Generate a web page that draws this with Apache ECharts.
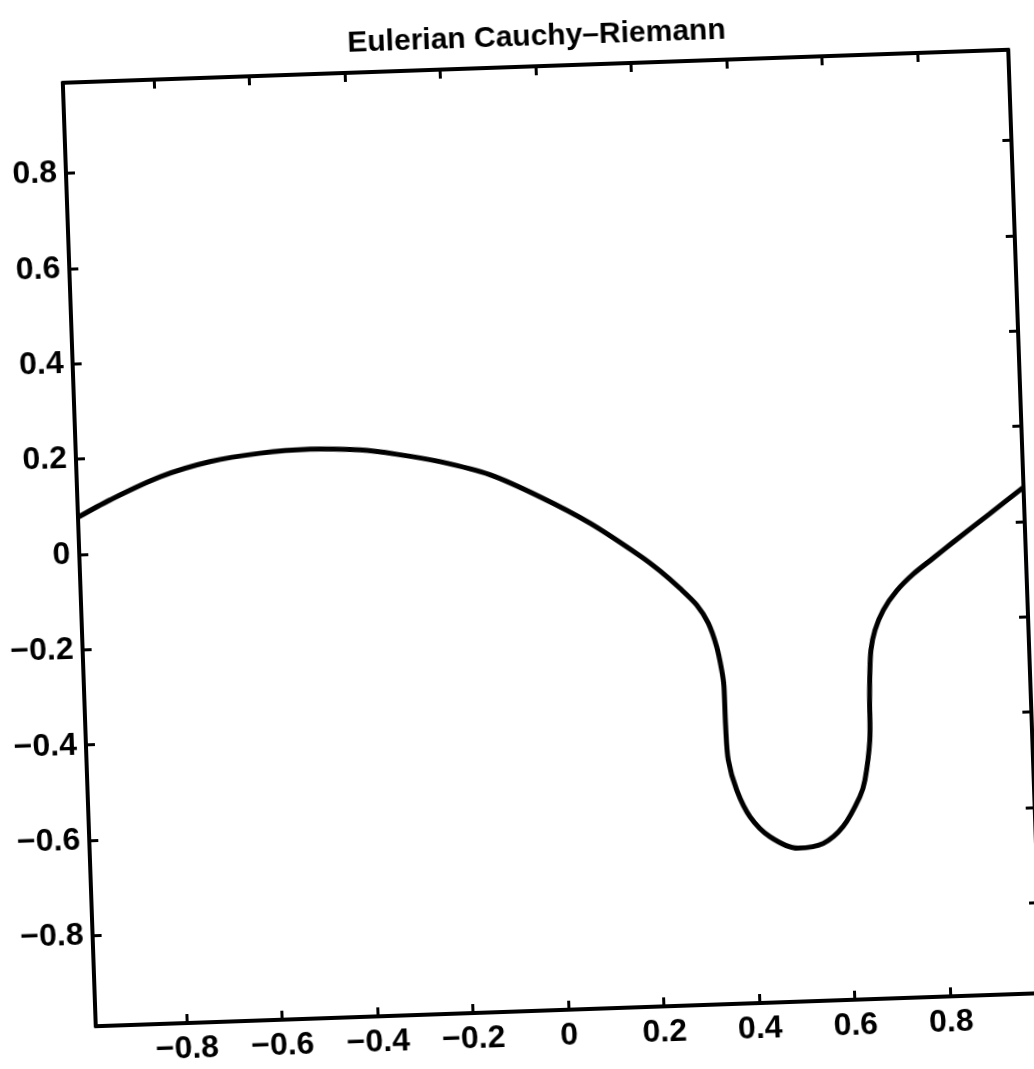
<!DOCTYPE html>
<html>
<head>
<meta charset="utf-8">
<script src="https://cdn.jsdelivr.net/npm/echarts@6/dist/echarts.min.js"></script>
<style>
  html, body { margin: 0; padding: 0; background: #fff; overflow: hidden; }
  #chart {
    width: 1034px; height: 1069px;
    transform: rotate(-2deg);
    transform-origin: 552px 538px;
  }
</style>
</head>
<body>
<div id="chart"></div>
<script>
// Axis tick positions (both axes)
const xTicks = [-0.8, -0.6, -0.4, -0.2, 0, 0.2, 0.4, 0.6, 0.8];
const yTicks = [-0.8, -0.6, -0.4, -0.2, 0, 0.2, 0.4, 0.6, 0.8];

// Interface curve samples
const curveX = [-0.99, -0.922, -0.815, -0.710, -0.605, -0.500, -0.395, -0.319, -0.228, -0.125,
  -0.022, 0.081, 0.183, 0.2235, 0.264, 0.2978, 0.3207, 0.3365, 0.3453, 0.3489,
  0.3495, 0.3525, 0.368, 0.394, 0.434, 0.492, 0.545, 0.588, 0.625, 0.637,
  0.650, 0.6525, 0.655, 0.659, 0.669, 0.688, 0.717, 0.753, 0.796, 0.839,
  0.9175, 0.99];
const curveY = [0.078, 0.112, 0.157, 0.185, 0.199, 0.204, 0.1985, 0.187, 0.168, 0.137,
  0.087, 0.028, -0.044, -0.077, -0.115, -0.151, -0.190, -0.240, -0.289, -0.324,
  -0.408, -0.478, -0.542, -0.599, -0.642, -0.668, -0.660, -0.626, -0.565, -0.530,
  -0.447, -0.363, -0.307, -0.258, -0.2165, -0.175, -0.136, -0.102, -0.070, -0.038,
  0.019, 0.072];

const titleText = 'Eulerian Cauchy\u2013Riemann';
const axisMin = -0.99, axisMax = 0.99;

const FONT = '"Liberation Sans", Arial, Helvetica, sans-serif';
const fmt = v => (v < 0 ? '\u2212' + String(Math.abs(v)) : String(v));

const lineStyle = { color: '#000', width: 4 };
const labelStyle = { color: '#000', fontFamily: FONT, fontWeight: 'bold', fontSize: 32 };

function frameAxis(position, ticks, showLabel, extraLabel) {
  return {
    type: 'value',
    position: position,
    min: axisMin,
    max: axisMax,
    axisLine: { show: true, onZero: false, lineStyle: lineStyle },
    axisTick: { show: true, inside: true, length: 9, customValues: ticks,
      lineStyle: { color: '#000', width: 3 } },
    axisLabel: Object.assign({ show: showLabel, customValues: ticks, formatter: fmt }, labelStyle, extraLabel || {}),
    splitLine: { show: false }
  };
}

const chart = echarts.init(document.getElementById('chart'), null, { renderer: 'canvas' });
chart.setOption({
  backgroundColor: '#fff',
  animation: false,
  title: {
    text: titleText,
    left: 549,
    textAlign: 'center',
    top: 17,
    textStyle: { color: '#000', fontFamily: FONT, fontWeight: 'bold', fontSize: 30 }
  },
  grid: { left: 79, top: 66, width: 946, height: 944, containLabel: false },
  xAxis: [
    frameAxis('bottom', xTicks, true, { margin: 10 }),
    frameAxis('top', xTicks, false)
  ],
  yAxis: [
    frameAxis('left', yTicks, true, { margin: 9, padding: [8, 0, 0, 0] }),
    frameAxis('right', yTicks, false)
  ],
  series: [{
    type: 'line',
    xAxisIndex: 0,
    yAxisIndex: 0,
    data: curveX.map((x, i) => [x, curveY[i]]),
    showSymbol: false,
    symbol: 'none',
    smooth: 0.3,
    lineStyle: { color: '#000', width: 5 },
    clip: true
  }]
});
</script>
</body>
</html>
